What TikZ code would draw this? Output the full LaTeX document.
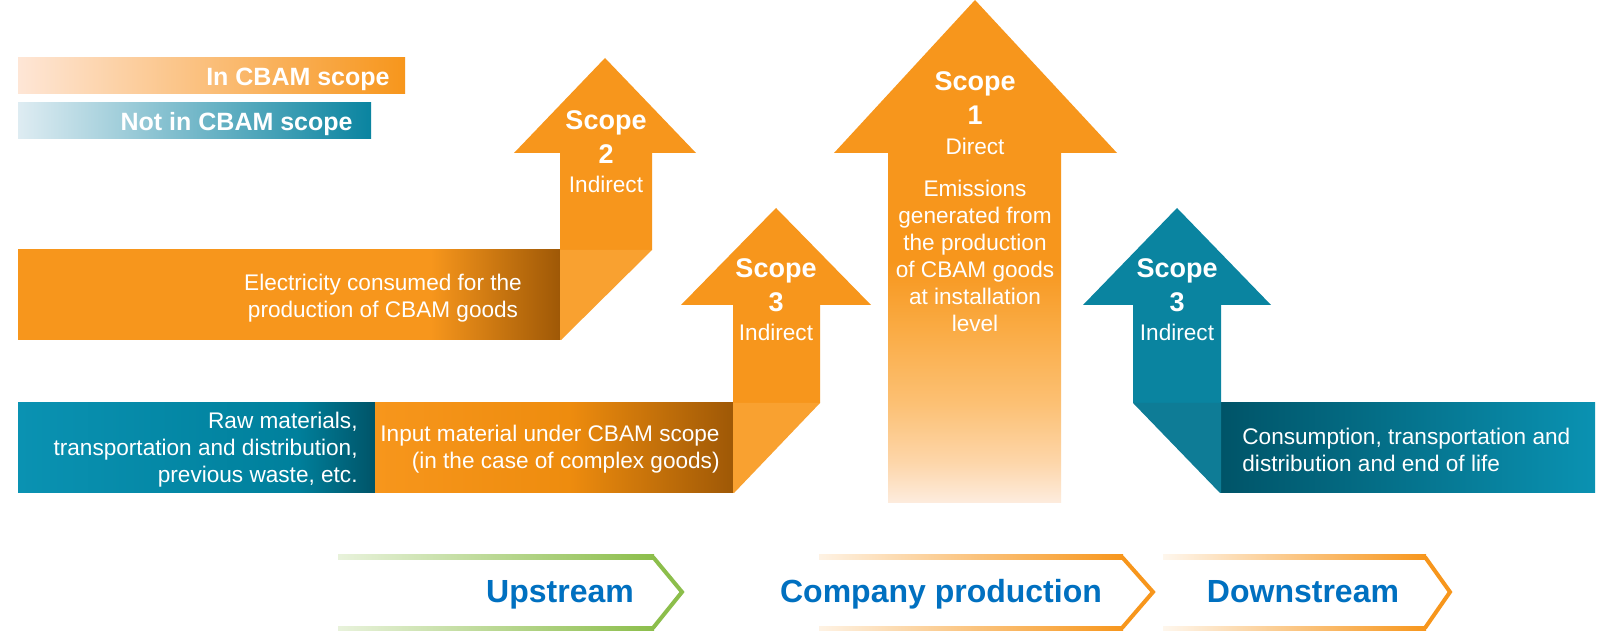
\documentclass[tikz,border=0pt]{standalone}
\usepackage{fontspec}
\setmainfont{Liberation Sans}
\usepackage{xcolor}
\usetikzlibrary{positioning}

\definecolor{cbamorange}{RGB}{247,150,28}
\definecolor{foldorange}{RGB}{249,161,48}
\definecolor{cbambrown}{RGB}{158,88,6}
\definecolor{orangemid}{RGB}{238,140,14}
\definecolor{orangepale}{RGB}{254,230,214}
\definecolor{cbamteal}{RGB}{10,132,160}
\definecolor{foldteal}{RGB}{14,124,150}
\definecolor{tealdark}{RGB}{0,84,104}
\definecolor{tealmid}{RGB}{0,128,156}
\definecolor{teallight}{RGB}{10,146,178}
\definecolor{tealpale}{RGB}{222,236,242}
\definecolor{stagegreen}{RGB}{140,190,75}
\definecolor{stageblue}{RGB}{0,112,192}
\definecolor{fadezero}{RGB}{253,236,222}
\definecolor{fadeone}{RGB}{253,214,170}
\definecolor{fadetwo}{RGB}{252,192,115}
\definecolor{fadethree}{RGB}{250,172,70}

\pgfdeclarehorizontalshading{electricitybar}{100bp}{color(0bp)=(cbamorange); color(25bp)=(cbamorange); color(63bp)=(cbamorange); color(75bp)=(cbambrown); color(100bp)=(cbambrown)}
\pgfdeclarehorizontalshading{inputbar}{100bp}{color(0bp)=(cbamorange); color(25bp)=(cbamorange); color(52bp)=(orangemid); color(75bp)=(cbambrown); color(100bp)=(cbambrown)}
\pgfdeclarehorizontalshading{rawbar}{100bp}{color(0bp)=(teallight); color(25bp)=(teallight); color(64bp)=(tealmid); color(75bp)=(tealdark); color(100bp)=(tealdark)}
\pgfdeclarehorizontalshading{lifebar}{100bp}{color(0bp)=(tealdark); color(25bp)=(tealdark); color(75bp)=(teallight); color(100bp)=(teallight)}
\pgfdeclareverticalshading{scopeonefade}{100bp}{color(0bp)=(fadezero); color(25bp)=(fadezero); color(29bp)=(fadeone); color(35bp)=(fadetwo); color(42bp)=(fadethree); color(49bp)=(cbamorange); color(100bp)=(cbamorange)}

\begin{document}
\begin{tikzpicture}[
    x=0.5pt, y=-0.5pt,
    legendtxt/.style={text=white, font=\bfseries\fontsize{12.5}{15}\selectfont, inner sep=0pt, anchor=base east},
    scopetitle/.style={text=white, font=\bfseries\fontsize{13.5}{17}\selectfont, inner sep=0pt, align=center, anchor=base},
    scopekind/.style={text=white, font=\fontsize{11.3}{13.5}\selectfont, inner sep=0pt, anchor=base},
    bodytxt/.style={text=white, font=\fontsize{11.3}{13.5}\selectfont, inner sep=0pt},
    stagetxt/.style={text=stageblue, font=\bfseries\fontsize{16}{19}\selectfont, inner sep=0pt, anchor=base},
    stageline/.style={line width=2pt, line join=miter},
]
    \fill[white] (0,0) rectangle (1600,640);
    \useasboundingbox (0,0) rectangle (1600,640);

    % legend
    \shade[left color=orangepale, right color=cbamorange] (18,58) rectangle (405,94);
    \shade[left color=tealpale, right color=cbamteal] (18,103) rectangle (371,139);
    \node[legendtxt] (inscope) at (390,86) {In CBAM scope};
    \node[legendtxt] (notinscope) at (353,131) {Not in CBAM scope};

    % horizontal bars
    \shade[shading=electricitybar] (18,250) rectangle (561,340);
    \shade[shading=rawbar] (18,403) rectangle (375,493);
    \shade[shading=inputbar] (375,403) rectangle (734,493);
    \shade[shading=lifebar] (1221,403) rectangle (1595,493);

    % scope 2 arrow
    \fill[cbamorange] (560,250) -- (560,153) -- (514,153) -- (605,58) -- (696,153) -- (652,153) -- (652,250) -- cycle;
    \fill[foldorange] (560,250) -- (652,250) -- (561,340) -- (560,340) -- cycle;

    % scope 3 upstream arrow
    \fill[cbamorange] (733,403) -- (733,305) -- (681,305) -- (776,208) -- (871,305) -- (820,305) -- (820,403) -- cycle;
    \fill[foldorange] (733,403) -- (820,403) -- (734,493) -- (733,493) -- cycle;

    % scope 1 arrow
    \shade[shading=scopeonefade] (888,503) -- (888,153) -- (834,153) -- (975,0) -- (1117,153) -- (1061,153) -- (1061,503) -- cycle;

    % scope 3 downstream arrow
    \fill[cbamteal] (1133,403) -- (1133,305) -- (1083,305) -- (1177,208) -- (1271,305) -- (1221,305) -- (1221,403) -- cycle;
    \fill[foldteal] (1133,403) -- (1221,403) -- (1221,493) -- (1220,493) -- cycle;

    % arrow labels (base = last line)
    \node[scopetitle] (scopetwo) at (606,164) {Scope\\2};
    \node[scopekind] (scopetwokind) at (606,193) {Indirect};
    \node[scopetitle] (scopethreeup) at (776,312) {Scope\\3};
    \node[scopekind] (scopethreeupkind) at (776,341) {Indirect};
    \node[scopetitle] (scopeone) at (975,125) {Scope\\1};
    \node[scopekind] (scopeonekind) at (975,155) {Direct};
    \node[scopetitle] (scopethreedown) at (1177,312) {Scope\\3};
    \node[scopekind] (scopethreedownkind) at (1177,341) {Indirect};

    % bar texts
    \node[bodytxt, align=center, anchor=base] (scopeonetxt) at (975,332)
        {Emissions\\generated from\\the production\\of CBAM goods\\at installation\\level};
    \node[bodytxt, align=center, anchor=base] (electricity) at (383,318)
        {Electricity consumed for the\\production of CBAM goods};
    \node[bodytxt, align=right, anchor=base east] (rawmat) at (358,483)
        {Raw materials,\\transportation and distribution,\\previous waste, etc.};
    \node[bodytxt, align=right, anchor=base east] (inputmat) at (720,469)
        {Input material under CBAM scope\\(in the case of complex goods)};
    \node[bodytxt, align=left, anchor=base west] (endoflife) at (1242,472)
        {Consumption, transportation and\\distribution and end of life};

    % value chain stages
    \shade[left color=stagegreen!20, right color=stagegreen] (338,555) rectangle (654,559);
    \shade[left color=stagegreen!20, right color=stagegreen] (338,626) rectangle (654,630);
    \draw[stageline, stagegreen] (653,557) -- (682,592) -- (653,628);
    \shade[left color=cbamorange!12, right color=cbamorange] (819,555) rectangle (1123,559);
    \shade[left color=cbamorange!12, right color=cbamorange] (819,626) rectangle (1123,630);
    \draw[stageline, cbamorange] (1122,557) -- (1153,592) -- (1122,628);
    \shade[left color=cbamorange!8, right color=cbamorange] (1163,555) rectangle (1426,559);
    \shade[left color=cbamorange!8, right color=cbamorange] (1163,626) rectangle (1426,630);
    \draw[stageline, cbamorange] (1425,557) -- (1450,592) -- (1425,628);
    \node[stagetxt] (upstream) at (560,603) {Upstream};
    \node[stagetxt] (production) at (941,603) {Company production};
    \node[stagetxt] (downstream) at (1303,603) {Downstream};
\end{tikzpicture}
\end{document}
